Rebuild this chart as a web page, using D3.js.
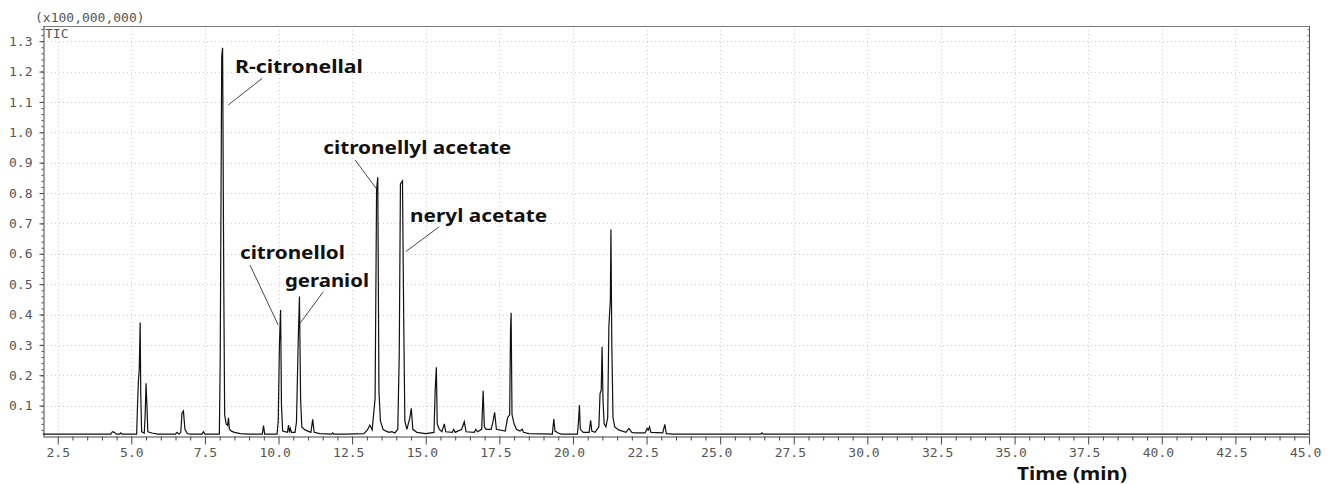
<!DOCTYPE html>
<html>
<head>
<meta charset="utf-8">
<script src="https://cdn.jsdelivr.net/npm/d3@7"></script>
<style>
  html, body { margin: 0; padding: 0; background: #fff; }
  svg { display: block; }
</style>
</head>
<body>
<script>
// Total ion chromatogram (TIC), retention time in minutes, intensity in units of 1e8
const retentionTime = [
  2.00, 4.30, 4.36, 4.42, 4.50, 4.60, 4.64, 4.68, 5.18, 5.21, 5.24, 5.27, 5.30, 5.32, 5.35,
  5.44, 5.47, 5.50, 5.53, 5.56, 5.70, 5.90, 6.50, 6.55, 6.62, 6.68, 6.72, 6.77, 6.82, 6.90,
  7.00, 7.40, 7.45, 7.50, 7.99, 8.02, 8.07, 8.10, 8.14, 8.17, 8.22, 8.27, 8.30, 8.33, 8.40,
  8.50, 8.70, 9.00, 9.45, 9.49, 9.53, 9.95, 9.99, 10.03, 10.07, 10.10, 10.14, 10.30, 10.34, 10.37,
  10.40, 10.44, 10.56, 10.61, 10.67, 10.71, 10.75, 10.79, 10.90, 11.10, 11.16, 11.21, 11.40, 11.80, 11.84,
  11.88, 12.30, 12.90, 13.02, 13.10, 13.18, 13.28, 13.33, 13.37, 13.41, 13.46, 13.55, 13.65, 13.75, 13.85,
  13.95, 14.05, 14.10, 14.14, 14.21, 14.25, 14.29, 14.36, 14.46, 14.51, 14.56, 14.70, 15.00, 15.28, 15.32,
  15.36, 15.39, 15.46, 15.55, 15.63, 15.68, 15.90, 15.95, 16.00, 16.22, 16.31, 16.37, 16.65, 16.70, 16.76,
  16.90, 16.95, 16.99, 17.05, 17.22, 17.28, 17.34, 17.40, 17.70, 17.78, 17.85, 17.88, 17.90, 17.93, 18.00,
  18.08, 18.20, 18.28, 18.32, 18.50, 19.30, 19.35, 19.39, 19.50, 19.60, 20.15, 20.19, 20.22, 20.25, 20.35,
  20.55, 20.60, 20.64, 20.75, 20.88, 20.92, 20.96, 20.99, 21.02, 21.06, 21.12, 21.18, 21.22, 21.27, 21.29,
  21.32, 21.36, 21.42, 21.55, 21.80, 21.90, 22.00, 22.10, 22.45, 22.52, 22.56, 22.60, 22.65, 23.05, 23.12,
  23.17, 23.40, 26.38, 26.42, 26.46, 45.00
];
const intensity = [
  0.006, 0.006, 0.014, 0.012, 0.006, 0.006, 0.010, 0.006, 0.006, 0.10, 0.18, 0.22, 0.374, 0.14, 0.014,
  0.010, 0.07, 0.174, 0.10, 0.014, 0.010, 0.006, 0.006, 0.012, 0.006, 0.012, 0.075, 0.082, 0.022, 0.008,
  0.006, 0.006, 0.014, 0.006, 0.006, 0.26, 1.25, 1.278, 0.50, 0.07, 0.04, 0.035, 0.06, 0.022, 0.016,
  0.012, 0.008, 0.006, 0.006, 0.034, 0.006, 0.006, 0.05, 0.30, 0.415, 0.10, 0.016, 0.012, 0.036, 0.012,
  0.025, 0.012, 0.012, 0.047, 0.32, 0.459, 0.12, 0.03, 0.02, 0.012, 0.055, 0.012, 0.008, 0.006, 0.010,
  0.006, 0.006, 0.008, 0.02, 0.036, 0.02, 0.124, 0.81, 0.852, 0.15, 0.05, 0.022, 0.016, 0.012, 0.014,
  0.010, 0.022, 0.267, 0.83, 0.84, 0.40, 0.05, 0.022, 0.06, 0.091, 0.022, 0.012, 0.008, 0.012, 0.15,
  0.226, 0.04, 0.022, 0.014, 0.04, 0.014, 0.012, 0.022, 0.012, 0.022, 0.047, 0.014, 0.012, 0.022, 0.014,
  0.022, 0.149, 0.03, 0.022, 0.022, 0.045, 0.078, 0.022, 0.016, 0.06, 0.07, 0.35, 0.406, 0.07, 0.04,
  0.022, 0.016, 0.022, 0.012, 0.008, 0.006, 0.056, 0.016, 0.010, 0.006, 0.006, 0.05, 0.102, 0.022, 0.012,
  0.012, 0.052, 0.016, 0.012, 0.03, 0.14, 0.15, 0.294, 0.12, 0.04, 0.03, 0.06, 0.36, 0.448, 0.68,
  0.30, 0.06, 0.03, 0.02, 0.012, 0.025, 0.012, 0.010, 0.010, 0.025, 0.02, 0.03, 0.012, 0.010, 0.038,
  0.008, 0.006, 0.006, 0.010, 0.006, 0.006
];

// Axis ticks
const xTickValues = [2.5, 5.0, 7.5, 10.0, 12.5, 15.0, 17.5, 20.0, 22.5, 25.0, 27.5, 30.0, 32.5, 35.0, 37.5, 40.0, 42.5, 45.0];
const xTickLabels = ["2.5", "5.0", "7.5", "10.0", "12.5", "15.0", "17.5", "20.0", "22.5", "25.0", "27.5", "30.0", "32.5", "35.0", "37.5", "40.0", "42.5", "45.0"];
const yTickValues = [0.1, 0.2, 0.3, 0.4, 0.5, 0.6, 0.7, 0.8, 0.9, 1.0, 1.1, 1.2, 1.3];
const yTickLabels = ["0.1", "0.2", "0.3", "0.4", "0.5", "0.6", "0.7", "0.8", "0.9", "1.0", "1.1", "1.2", "1.3"];

// Peak identifications
const peakNames = ["R-citronellal", "citronellol", "geraniol", "citronellyl acetate", "neryl acetate"];

const yUnitText = "(x100,000,000)";
const traceName = "TIC";
const xTitle = "Time (min)";

// ---------- layout ----------
const W = 1337, H = 484;
const plot = { left: 43, right: 1309, top: 26, bottom: 436 };

// label anchor (time, intensity) and leader line start/end in data units
const labelLayout = [
  { tx: 8.52,  ty: 1.195, width: 128, from: [9.45, 1.178],  to: [8.294, 1.090] },
  { tx: 8.69,  ty: 0.582, width: 105, from: [9.03, 0.563],  to: [9.99, 0.365] },
  { tx: 10.22, ty: 0.492, width: 84,  from: [11.52, 0.475], to: [10.73, 0.371] },
  { tx: 11.52, ty: 0.929, width: 188, from: [12.60, 0.909], to: [13.31, 0.816] },
  { tx: 14.47, ty: 0.706, width: 137, from: [15.46, 0.689], to: [14.32, 0.607] }
];

const monoFont = "'DejaVu Sans Mono', monospace";
const labelFont = "'Noto Sans', 'Open Sans', sans-serif";

const svg = d3.select("body").append("svg")
  .attr("width", W).attr("height", H);

svg.append("rect").attr("width", W).attr("height", H).attr("fill", "#fff");

const x = d3.scaleLinear().domain([2, 45]).range([plot.left, plot.right]);
const y = d3.scaleLinear().domain([0, 1.35]).range([plot.bottom, plot.top]);

// ---------- dotted grid ----------
const grid = svg.append("g")
  .attr("stroke", "#cfcfcf")
  .attr("stroke-width", 1)
  .attr("stroke-dasharray", "1,3");

grid.selectAll("line.vg").data(xTickValues.slice(0, -1)).join("line")
  .attr("class", "vg")
  .attr("x1", d => Math.round(x(d)) + 0.5).attr("x2", d => Math.round(x(d)) + 0.5)
  .attr("y1", plot.top).attr("y2", plot.bottom);

grid.selectAll("line.hg").data(yTickValues).join("line")
  .attr("class", "hg")
  .attr("x1", plot.left).attr("x2", plot.right)
  .attr("y1", d => Math.round(y(d)) + 0.5).attr("y2", d => Math.round(y(d)) + 0.5);

// ---------- frame (top and right) ----------
svg.append("line")
  .attr("x1", plot.left).attr("x2", plot.right)
  .attr("y1", plot.top + 0.5).attr("y2", plot.top + 0.5)
  .attr("stroke", "#7a7a7a");
svg.append("line")
  .attr("x1", plot.right + 0.5).attr("x2", plot.right + 0.5)
  .attr("y1", plot.top).attr("y2", plot.bottom)
  .attr("stroke", "#555");

// inward minor ticks on the right border
const yMinor = d3.range(1, 68).map(i => +(i * 0.02).toFixed(2));
svg.append("g")
  .attr("transform", `translate(${plot.right + 0.5},0)`)
  .call(d3.axisLeft(y).tickValues(yMinor).tickSize(2).tickSizeOuter(0).tickFormat(""))
  .call(g => g.select(".domain").remove())
  .selectAll("line").attr("stroke", "#777");

// ---------- y axis ----------
const yMinorAxis = svg.append("g")
  .attr("transform", `translate(${plot.left + 0.5},0)`)
  .call(d3.axisLeft(y).tickValues(yMinor).tickSize(2).tickSizeOuter(0).tickFormat(""));
yMinorAxis.select(".domain").attr("stroke", "#444");
yMinorAxis.selectAll("line").attr("stroke", "#444");

const yAxis = svg.append("g")
  .attr("transform", `translate(${plot.left + 0.5},0)`)
  .call(d3.axisLeft(y).tickValues(yTickValues).tickSize(4).tickSizeOuter(0).tickPadding(7)
    .tickFormat((d, i) => yTickLabels[i]));
yAxis.select(".domain").remove();
yAxis.selectAll("line").attr("stroke", "#444");
yAxis.selectAll("text")
  .attr("font-family", monoFont)
  .attr("font-size", 13)
  .attr("fill", "#555");

// ---------- x axis ----------
const xMinor = d3.range(2.5, 45.01, 0.5).map(v => +v.toFixed(1)).filter(v => !xTickValues.includes(v));
const xMinorAxis = svg.append("g")
  .attr("transform", `translate(0,${plot.bottom + 0.5})`)
  .call(d3.axisBottom(x).tickValues(xMinor).tickSize(4).tickSizeOuter(0).tickFormat(""));
xMinorAxis.select(".domain").attr("stroke", "#444");
xMinorAxis.selectAll("line").attr("stroke", "#444");

const xAxis = svg.append("g")
  .attr("transform", `translate(0,${plot.bottom + 0.5})`)
  .call(d3.axisBottom(x).tickValues(xTickValues).tickSize(8).tickSizeOuter(0).tickPadding(3)
    .tickFormat((d, i) => xTickLabels[i]));
xAxis.select(".domain").remove();
xAxis.selectAll("line").attr("stroke", "#444");

// place each label so the decimal point sits on its tick
const probe = svg.append("text").attr("font-family", monoFont).attr("font-size", 13).text("0000000000");
const charW = probe.node().getComputedTextLength() / 10;
probe.remove();
xAxis.selectAll("text")
  .attr("font-family", monoFont)
  .attr("font-size", 13)
  .attr("fill", "#555")
  .attr("text-anchor", "start")
  .attr("x", (d, i) => -(xTickLabels[i].indexOf(".") + 0.5) * charW);

// ---------- header texts ----------
svg.append("text")
  .attr("x", 35).attr("y", 22)
  .attr("font-family", monoFont).attr("font-size", 13).attr("fill", "#555")
  .text(yUnitText);
svg.append("text")
  .attr("x", plot.left + 2).attr("y", 38)
  .attr("font-family", monoFont).attr("font-size", 13).attr("fill", "#555")
  .text(traceName);

// ---------- chromatogram trace ----------
const trace = retentionTime.map((t, i) => ({ t, v: intensity[i] }));
const line = d3.line().x(d => x(d.t)).y(d => y(d.v));
svg.append("path")
  .datum(trace)
  .attr("d", line)
  .attr("fill", "none")
  .attr("stroke", "#111")
  .attr("stroke-width", 1.2)
  .attr("stroke-linejoin", "miter");

// ---------- peak labels ----------
const ann = svg.append("g");
peakNames.forEach((name, i) => {
  const L = labelLayout[i];
  ann.append("line")
    .attr("x1", x(L.from[0])).attr("y1", y(L.from[1]))
    .attr("x2", x(L.to[0])).attr("y2", y(L.to[1]))
    .attr("stroke", "#333").attr("stroke-width", 0.9);
  ann.append("text")
    .attr("x", x(L.tx)).attr("y", y(L.ty))
    .attr("font-family", labelFont)
    .attr("font-weight", "bold")
    .attr("font-size", 18)
    .attr("fill", "#111")
    .attr("textLength", L.width)
    .attr("lengthAdjust", "spacingAndGlyphs")
    .text(name);
});

// ---------- x title ----------
svg.append("text")
  .attr("x", 1017).attr("y", 480)
  .attr("font-family", labelFont)
  .attr("font-weight", "bold")
  .attr("font-size", 18)
  .attr("fill", "#111")
  .attr("textLength", 110)
  .attr("lengthAdjust", "spacingAndGlyphs")
  .text(xTitle);
</script>
</body>
</html>
